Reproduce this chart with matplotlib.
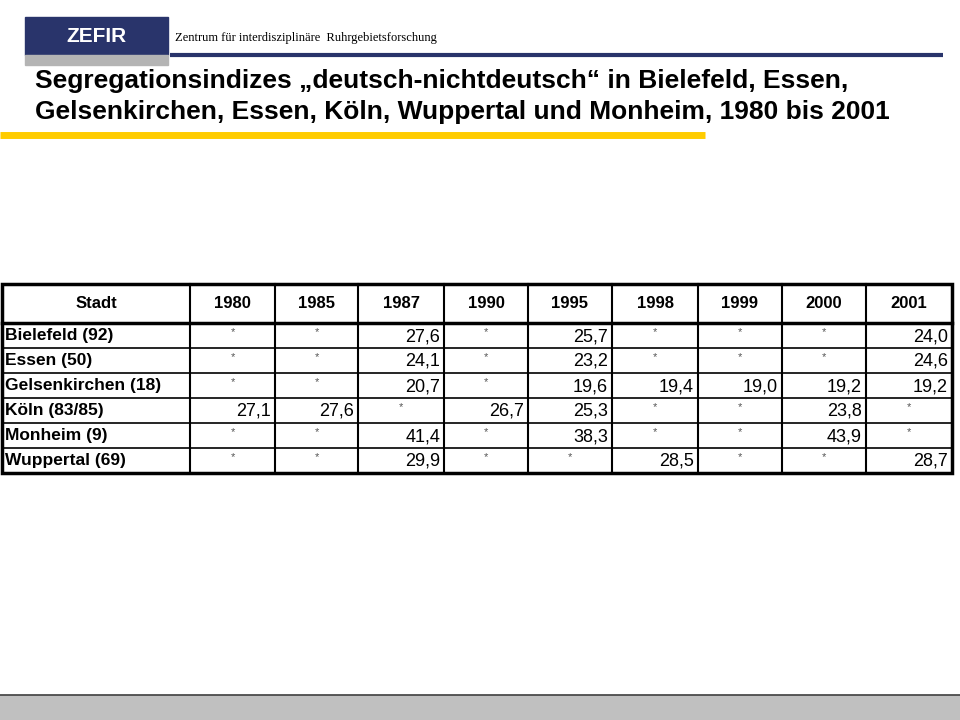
import matplotlib.pyplot as plt
from matplotlib.patches import Rectangle

years = ['1980', '1985', '1987', '1990', '1995', '1998', '1999', '2000', '2001']
cities = ['Bielefeld (92)', 'Essen (50)', 'Gelsenkirchen (18)', 'Köln (83/85)',
          'Monheim (9)', 'Wuppertal (69)']
# None = no value (shown as *)
values = [
    [None, None, 27.6, None, 25.7, None, None, None, 24.0],
    [None, None, 24.1, None, 23.2, None, None, None, 24.6],
    [None, None, 20.7, None, 19.6, 19.4, 19.0, 19.2, 19.2],
    [27.1, 27.6, None, 26.7, 25.3, None, None, 23.8, None],
    [None, None, 41.4, None, 38.3, None, None, 43.9, None],
    [None, None, 29.9, None, None, 28.5, None, None, 28.7],
]

fig = plt.figure(figsize=(9.6, 7.2), dpi=100)
ax = fig.add_axes([0, 0, 1, 1])
ax.set_xlim(0, 960)
ax.set_ylim(720, 0)
ax.axis('off')

# header
navy = '#29346b'
ax.add_patch(Rectangle((25, 17), 143, 38, color=navy))
ax.add_patch(Rectangle((25, 55), 143, 10, color='#b4b4b4'))
ax.text(96, 37, 'ZEFIR', color='white', fontsize=15, fontweight='bold',
        ha='center', va='center', family='Liberation Sans')
ax.text(175, 38, 'Zentrum für interdisziplinäre  Ruhrgebietsforschung',
        fontsize=9, family='Liberation Serif', va='center')
ax.plot([170, 943], [54.5, 54.5], color=navy, lw=3, solid_capstyle='butt')
ax.text(35, 81, 'Segregationsindizes „deutsch-nichtdeutsch“ in Bielefeld, Essen,',
        fontsize=19, fontweight='bold', va='center', family='Liberation Sans')
ax.text(35, 112, 'Gelsenkirchen, Essen, Köln, Wuppertal und Monheim, 1980 bis 2001',
        fontsize=19, fontweight='bold', va='center', family='Liberation Sans')
ax.plot([0, 705], [135, 135], color='#ffcc00', lw=5, solid_capstyle='butt')

# table
col_x = [2, 190, 275, 358, 444, 528, 612, 698, 782, 866, 952]
row_y = [284, 323, 348, 373, 398, 423, 448, 473]
font = 'Liberation Sans'
ax.add_patch(Rectangle((col_x[0], row_y[0]), col_x[-1] - col_x[0], row_y[-1] - row_y[0],
                       fill=False, lw=2.5, ec='black'))
for x in col_x[1:-1]:
    ax.plot([x, x], [row_y[0], row_y[-1]], color='black', lw=1.5)
for i, y in enumerate(row_y[1:-1]):
    ax.plot([col_x[0], col_x[-1]], [y, y], color='black', lw=2.5 if i == 0 else 1.2)

hy = (row_y[0] + row_y[1]) / 2
ax.text((col_x[0] + col_x[1]) / 2, hy, 'Stadt', fontsize=12, fontweight='bold',
        ha='center', va='center', family=font)
for j, yr in enumerate(years):
    ax.text((col_x[j + 1] + col_x[j + 2]) / 2, hy, yr, fontsize=12, fontweight='bold',
            ha='center', va='center', family=font)

for i, city in enumerate(cities):
    cy = (row_y[i + 1] + row_y[i + 2]) / 2
    ax.text(col_x[0] + 3, cy, city, fontsize=12.5, fontweight='bold', ha='left',
            va='center', family=font)
    for j, v in enumerate(values[i]):
        if v is None:
            ax.text((col_x[j + 1] + col_x[j + 2]) / 2, cy - 3, '*', fontsize=8,
                    ha='center', va='center', color='#555555', family=font)
        else:
            ax.text(col_x[j + 2] - 4, cy + 1, f'{v:.1f}'.replace('.', ','), fontsize=13,
                    ha='right', va='center', family=font)

# footer bar
ax.add_patch(Rectangle((0, 695), 960, 25, color='#c0c0c0'))
ax.plot([0, 960], [695, 695], color='#404040', lw=1.2)

fig.savefig('out.png', dpi=100)
